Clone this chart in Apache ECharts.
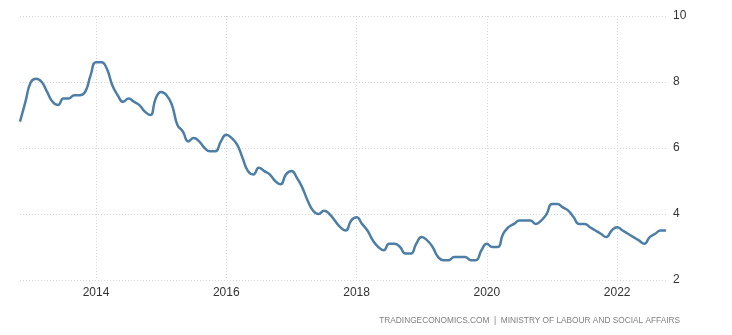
<!DOCTYPE html>
<html>
<head>
<meta charset="utf-8">
<script src="https://cdn.jsdelivr.net/npm/echarts@6/dist/echarts.min.js"></script>
<style>
  html, body { margin: 0; padding: 0; background: #fff; }
  #chart { width: 732px; height: 335px; }
</style>
</head>
<body>
<div id="chart"></div>
<script>
// Monthly unemployment share (%), November 2012 to October 2022
const startYear = 2012;
const startMonth = 11;
const values2012 = [6.8, 7.4];
const values2013 = [8.0, 8.1, 8.0, 7.7, 7.4, 7.3, 7.5, 7.5, 7.6, 7.6, 7.7, 8.2];
const values2014 = [8.6, 8.6, 8.4, 7.9, 7.6, 7.4, 7.5, 7.4, 7.3, 7.1, 7.0, 7.5];
const values2015 = [7.7, 7.6, 7.3, 6.7, 6.5, 6.2, 6.3, 6.2, 6.0, 5.9, 5.9, 6.2];
const values2016 = [6.4, 6.3, 6.1, 5.7, 5.3, 5.2, 5.4, 5.3, 5.2, 5.0, 4.9, 5.2];
const values2017 = [5.3, 5.1, 4.8, 4.4, 4.1, 4.0, 4.1, 4.0, 3.8, 3.6, 3.5, 3.8];
const values2018 = [3.9, 3.7, 3.5, 3.2, 3.0, 2.9, 3.1, 3.1, 3.0, 2.8, 2.8, 3.1];
const values2019 = [3.3, 3.2, 3.0, 2.7, 2.6, 2.6, 2.7, 2.7, 2.7, 2.6, 2.6, 2.9];
const values2020 = [3.1, 3.0, 3.0, 3.4, 3.6, 3.7, 3.8, 3.8, 3.8, 3.7, 3.8, 4.0];
const values2021 = [4.3, 4.3, 4.2, 4.1, 3.9, 3.7, 3.7, 3.6, 3.5, 3.4, 3.3, 3.5];
const values2022 = [3.6, 3.5, 3.4, 3.3, 3.2, 3.1, 3.3, 3.4, 3.5, 3.5];

const yearTickLabels = ['2014', '2016', '2018', '2020', '2022'];
const yTicks = { min: 2, max: 10, interval: 2 };
const sourceText = 'TRADINGECONOMICS.COM  |  MINISTRY OF LABOUR AND SOCIAL AFFAIRS';

const values = [].concat(values2012, values2013, values2014, values2015, values2016,
  values2017, values2018, values2019, values2020, values2021, values2022);

// month categories "YYYY-MM"
const months = [];
for (let i = 0; i < values.length; i++) {
  const m0 = startMonth - 1 + i;
  const y = startYear + Math.floor(m0 / 12);
  const m = (m0 % 12) + 1;
  months.push(y + '-' + String(m).padStart(2, '0'));
}

function isYearTick(idx) {
  const c = months[idx];
  return c.endsWith('-01') && yearTickLabels.indexOf(c.slice(0, 4)) >= 0;
}

const gridColor = '#d6d6d6';
const font = 'Arial, "Liberation Sans", sans-serif';

const chart = echarts.init(document.getElementById('chart'), null, { renderer: 'canvas' });
chart.setOption({
  animation: false,
  backgroundColor: '#ffffff',
  grid: { left: 20, right: 66, top: 16, bottom: 55, containLabel: false },
  xAxis: {
    type: 'category',
    data: months,
    boundaryGap: false,
    axisLine: { show: false },
    axisTick: { show: false },
    axisLabel: {
      interval: (idx) => isYearTick(idx),
      formatter: (v) => v.slice(0, 4),
      color: '#333',
      fontSize: 12,
      fontFamily: font,
      margin: 7
    },
    splitLine: {
      show: true,
      interval: (idx) => isYearTick(idx),
      lineStyle: { color: gridColor, type: [1, 2], width: 1 }
    }
  },
  yAxis: {
    type: 'value',
    position: 'right',
    min: yTicks.min,
    max: yTicks.max,
    interval: yTicks.interval,
    axisLine: { show: false },
    axisTick: { show: false },
    axisLabel: { color: '#333', fontSize: 12, fontFamily: font, margin: 7 },
    splitLine: { show: true, lineStyle: { color: gridColor, type: [1, 2], width: 1 } }
  },
  series: [{
    type: 'line',
    data: values,
    smooth: 0.5,
    showSymbol: false,
    lineStyle: { color: '#4d7ea6', width: 2.5 },
    clip: false
  }],
  graphic: [{
    type: 'text',
    right: 52,
    top: 317,
    style: {
      text: sourceText,
      fill: '#808080',
      font: '8.3px ' + font
    }
  }]
});
</script>
</body>
</html>
